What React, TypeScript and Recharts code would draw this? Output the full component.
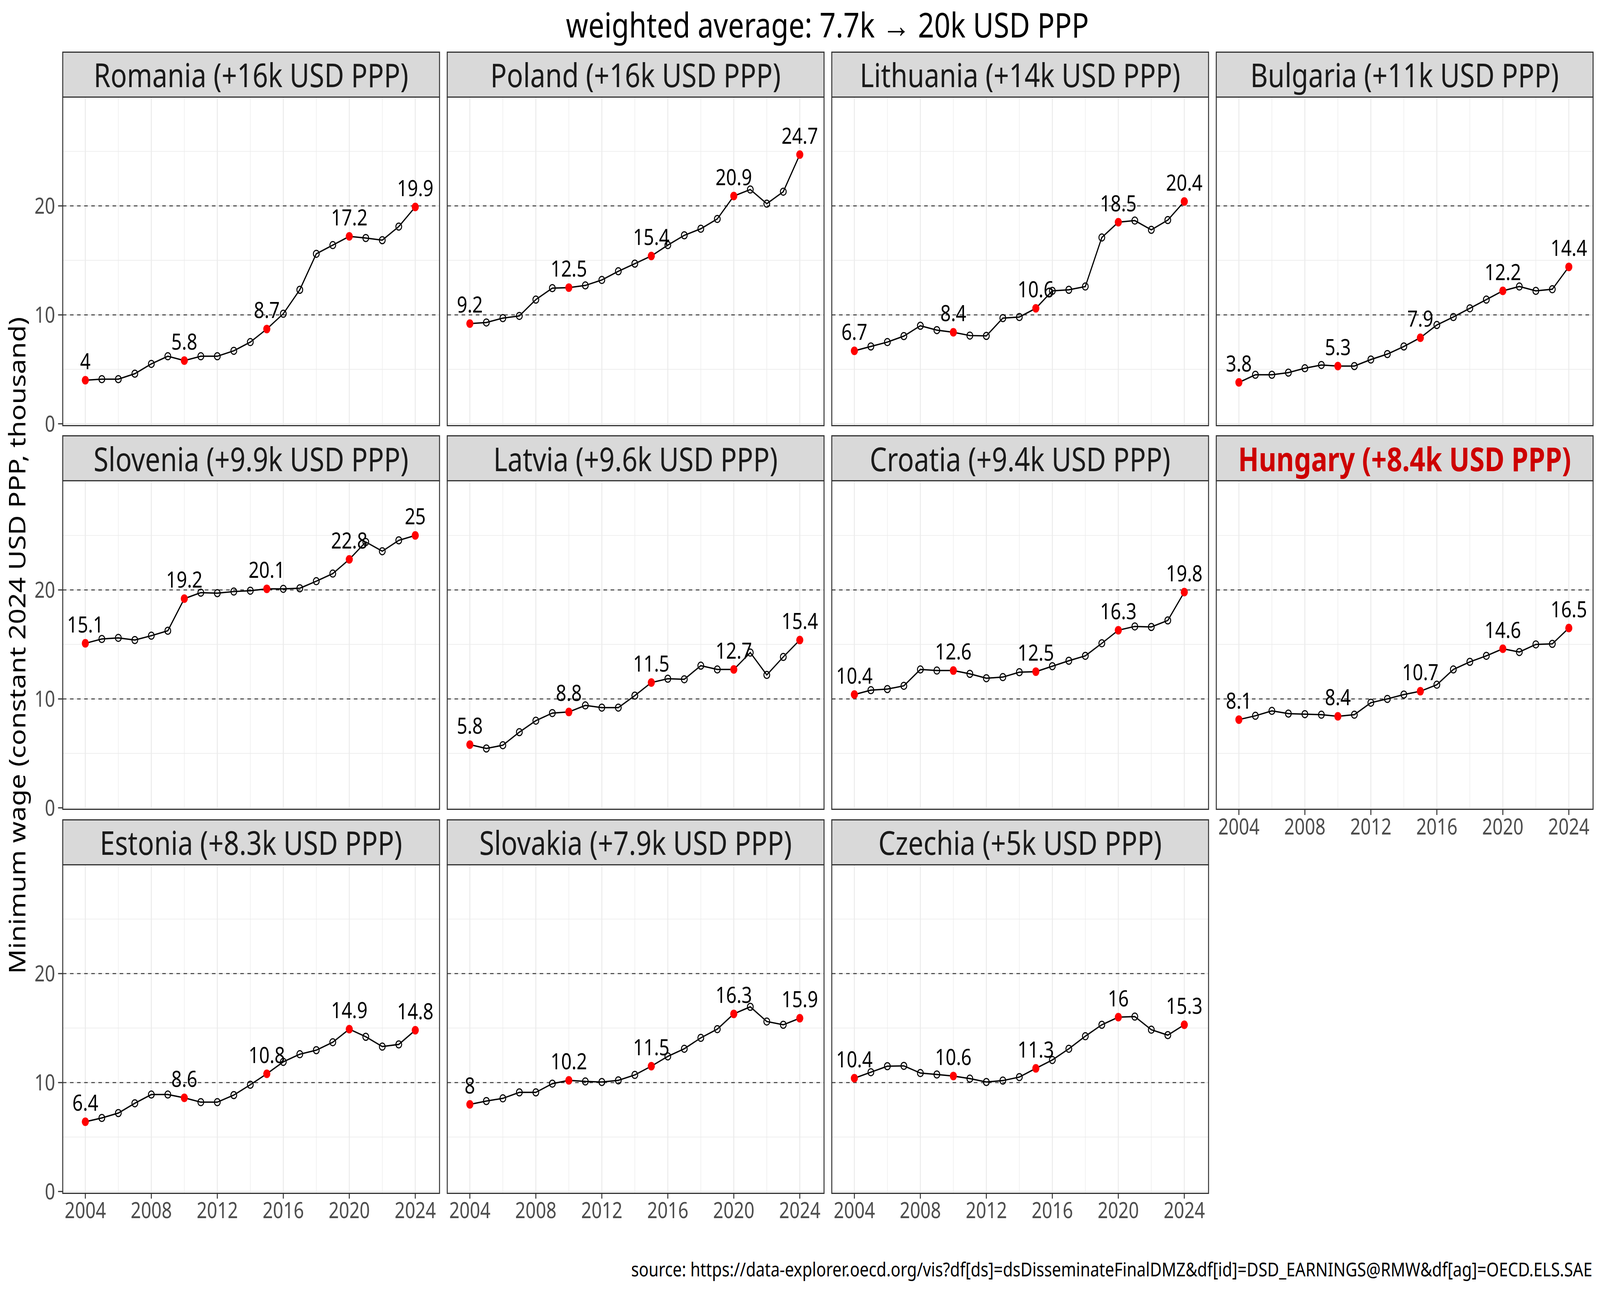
import { LabelList, Line, LineChart, ReferenceLine, XAxis, YAxis } from 'recharts';

// ─── Data ───────────────────────────────────────────────────

const YEARS = [2004, 2005, 2006, 2007, 2008, 2009, 2010, 2011, 2012, 2013, 2014, 2015, 2016, 2017, 2018, 2019, 2020, 2021, 2022, 2023, 2024];
const HIGHLIGHT_YEARS = [2004, 2010, 2015, 2020, 2024];
const X_TICKS = [2004, 2008, 2012, 2016, 2020, 2024];
const X_MINOR = [2006, 2010, 2014, 2018, 2022];
const Y_TICKS = [0, 10, 20];
const Y_MINOR = [5, 15, 25];
const DASHED_Y = [10, 20];

const ROMANIA = [4.0, 4.1, 4.1, 4.6, 5.5, 6.2, 5.8, 6.2, 6.2, 6.7, 7.5, 8.7, 10.1, 12.3, 15.6, 16.4, 17.2, 17.05, 16.85, 18.1, 19.9];
const POLAND = [9.2, 9.3, 9.7, 9.9, 11.4, 12.45, 12.5, 12.7, 13.2, 14.0, 14.7, 15.4, 16.4, 17.3, 17.9, 18.8, 20.9, 21.5, 20.2, 21.3, 24.7];
const LITHUANIA = [6.7, 7.1, 7.5, 8.05, 9.0, 8.6, 8.4, 8.1, 8.07, 9.7, 9.8, 10.6, 12.2, 12.3, 12.6, 17.1, 18.5, 18.65, 17.8, 18.7, 20.4];
const BULGARIA = [3.8, 4.5, 4.5, 4.7, 5.1, 5.4, 5.3, 5.3, 5.9, 6.4, 7.1, 7.9, 9.07, 9.8, 10.6, 11.4, 12.2, 12.6, 12.2, 12.35, 14.4];
const SLOVENIA = [15.1, 15.5, 15.6, 15.4, 15.8, 16.25, 19.2, 19.75, 19.7, 19.85, 19.93, 20.1, 20.1, 20.15, 20.8, 21.5, 22.8, 24.4, 23.55, 24.55, 25.0];
const LATVIA = [5.8, 5.45, 5.75, 6.95, 8.0, 8.7, 8.8, 9.4, 9.2, 9.2, 10.3, 11.5, 11.85, 11.8, 13.05, 12.7, 12.7, 14.25, 12.2, 13.85, 15.4];
const CROATIA = [10.4, 10.8, 10.9, 11.2, 12.7, 12.6, 12.6, 12.3, 11.9, 12.0, 12.45, 12.5, 13.0, 13.5, 13.95, 15.1, 16.3, 16.65, 16.6, 17.2, 19.8];
const HUNGARY = [8.1, 8.45, 8.9, 8.65, 8.6, 8.55, 8.4, 8.55, 9.65, 10.0, 10.4, 10.7, 11.3, 12.7, 13.4, 13.95, 14.6, 14.3, 15.0, 15.05, 16.5];
const ESTONIA = [6.4, 6.75, 7.2, 8.1, 8.9, 8.9, 8.6, 8.2, 8.2, 8.85, 9.8, 10.8, 11.9, 12.6, 12.97, 13.7, 14.9, 14.2, 13.3, 13.5, 14.8];
const SLOVAKIA = [8.0, 8.3, 8.55, 9.1, 9.1, 9.9, 10.2, 10.1, 10.05, 10.2, 10.7, 11.5, 12.4, 13.1, 14.1, 14.9, 16.3, 16.95, 15.6, 15.3, 15.9];
const CZECHIA = [10.4, 10.95, 11.5, 11.53, 10.87, 10.74, 10.6, 10.36, 10.05, 10.18, 10.5, 11.3, 12.07, 13.1, 14.25, 15.3, 16.0, 16.05, 14.85, 14.35, 15.3];

const COUNTRIES = ['Romania', 'Poland', 'Lithuania', 'Bulgaria', 'Slovenia', 'Latvia', 'Croatia', 'Hungary', 'Estonia', 'Slovakia', 'Czechia'];
const GAINS = ['+16k', '+16k', '+14k', '+11k', '+9.9k', '+9.6k', '+9.4k', '+8.4k', '+8.3k', '+7.9k', '+5k'];
const SERIES = [ROMANIA, POLAND, LITHUANIA, BULGARIA, SLOVENIA, LATVIA, CROATIA, HUNGARY, ESTONIA, SLOVAKIA, CZECHIA];
const HIGHLIGHT_COUNTRY = 'Hungary';

const TITLE = 'weighted average: 7.7k → 20k USD PPP';
const Y_LABEL = 'Minimum wage (constant 2024 USD PPP, thousand)';
const CAPTION = 'source: https://data-explorer.oecd.org/vis?df[ds]=dsDisseminateFinalDMZ&df[id]=DSD_EARNINGS@RMW&df[ag]=OECD.ELS.SAE';

// ─── Layout ─────────────────────────────────────────────────

const W = 4960;
const H = 3307;
const FONT = '"Noto Sans", sans-serif';
const LEFT0 = 194.5;
const TOP0 = 133;
const COL_STRIDE = 1192;
const ROW_STRIDE = 982.5;
const PANEL_W = 1167.5;
const PANEL_H = 841;
const STRIP_H = 115;
const YAXIS_W = 140;
const XAXIS_H = 100;
const PAD_B = 40;
const BORDER = '#333333';

const fmt = (v: number) => String(Math.round(v * 10) / 10);

function renderDot(props: any) {
  const { cx, cy, payload } = props;
  if (cx == null || cy == null) return <g key={`d-${payload?.year}`} />;
  if (HIGHLIGHT_YEARS.includes(payload.year)) {
    return <circle key={`d-${payload.year}`} cx={cx} cy={cy} r={11} fill="#FF0000" />;
  }
  return <circle key={`d-${payload.year}`} cx={cx} cy={cy} r={9} fill="none" stroke="#000" strokeWidth={3} />;
}

function renderLabel(props: any) {
  const { value } = props;
  if (value == null) return null;
  const x = props.x ?? props.viewBox?.x;
  const y = props.y ?? props.viewBox?.y;
  return (
    <text x={x} y={y - 28} textAnchor="middle" fontSize={57} fontFamily={FONT} fill="#000">
      {value}
    </text>
  );
}

function Panel({ index }: { index: number }) {
  const col = index % 4;
  const row = Math.floor(index / 4);
  const name = COUNTRIES[index];
  const showY = col === 0;
  const showX = row === 2 || (row === 1 && col === 3);
  const stripTop = TOP0 + row * ROW_STRIDE;
  const plotTop = stripTop + STRIP_H;
  const left = LEFT0 + col * COL_STRIDE;
  const yw = showY ? YAXIS_W : 0;
  const xh = showX ? XAXIS_H : 0;
  const padB = showX ? 0 : PAD_B;
  const hl = name === HIGHLIGHT_COUNTRY;

  const data = YEARS.map((year, i) => ({
    year,
    v: SERIES[index][i],
    label: HIGHLIGHT_YEARS.includes(year) ? fmt(SERIES[index][i]) : null,
  }));

  const tickStyle = { fill: '#4D4D4D', fontSize: 56, fontFamily: FONT };

  return (
    <>
      <div style={{ position: 'absolute', left: left - yw, top: plotTop }}>
        <LineChart
          width={PANEL_W + yw}
          height={PANEL_H + xh + padB}
          data={data}
          margin={{ top: 0, right: 0, bottom: padB, left: 0 }}
        >
          <XAxis
            type="number"
            dataKey="year"
            domain={[2002.64, 2025.47]}
            ticks={X_TICKS}
            interval={0}
            allowDataOverflow
            hide={!showX}
            height={xh}
            axisLine={false}
            tickLine={{ stroke: BORDER, strokeWidth: 3 }}
            tickSize={14}
            tickMargin={10}
            tick={tickStyle}
          />
          <YAxis
            type="number"
            domain={[-0.15, 30]}
            ticks={Y_TICKS}
            interval={0}
            allowDataOverflow
            hide={!showY}
            width={yw}
            axisLine={false}
            tickLine={{ stroke: BORDER, strokeWidth: 3 }}
            tickSize={15}
            tickMargin={9}
            tick={tickStyle}
          />
          {X_MINOR.map(x => (
            <ReferenceLine key={`xm-${x}`} x={x} stroke="#EBEBEB" strokeWidth={1.6} />
          ))}
          {Y_MINOR.map(y => (
            <ReferenceLine key={`ym-${y}`} y={y} stroke="#EBEBEB" strokeWidth={1.6} />
          ))}
          {X_TICKS.map(x => (
            <ReferenceLine key={`xM-${x}`} x={x} stroke="#EBEBEB" strokeWidth={3} />
          ))}
          {Y_TICKS.map(y => (
            <ReferenceLine key={`yM-${y}`} y={y} stroke="#EBEBEB" strokeWidth={3} />
          ))}
          {DASHED_Y.map(y => (
            <ReferenceLine key={`yd-${y}`} y={y} stroke="#3A3A3A" strokeWidth={2.5} strokeDasharray="11 11" />
          ))}
          <Line
            type="linear"
            dataKey="v"
            stroke="#000"
            strokeWidth={3.5}
            dot={renderDot}
            activeDot={false}
            isAnimationActive={false}
          >
            <LabelList dataKey="label" content={renderLabel} />
          </Line>
        </LineChart>
      </div>
      <div
        style={{
          position: 'absolute',
          left: left - 1.5,
          top: plotTop - 1.5,
          width: PANEL_W + 3,
          height: PANEL_H + 3,
          border: `3px solid ${BORDER}`,
          boxSizing: 'border-box',
          pointerEvents: 'none',
        }}
      />
      <div
        style={{
          position: 'absolute',
          left: left - 1.5,
          top: stripTop - 1.5,
          width: PANEL_W + 3,
          height: STRIP_H + 3,
          border: `3px solid ${BORDER}`,
          boxSizing: 'border-box',
          background: '#D9D9D9',
          display: 'flex',
          alignItems: 'center',
          justifyContent: 'center',
          fontFamily: FONT,
          fontSize: 84,
          fontWeight: hl ? 700 : 400,
          color: hl ? '#CD0000' : '#1A1A1A',
          whiteSpace: 'nowrap',
        }}
      >
        {`${name} (${GAINS[index]} USD PPP)`}
      </div>
    </>
  );
}

export default function App() {
  // the browser caps the viewport width, so map the 4960x3307 layout onto the real viewport
  const vw = typeof window !== 'undefined' ? window.innerWidth : W;
  const vh = typeof window !== 'undefined' ? window.innerHeight : H;
  const sx = vw / W;
  const sy = vh / H;
  return (
    <div style={{ position: 'absolute', left: 0, top: 0, width: vw, height: vh, overflow: 'hidden', background: '#fff' }}>
      <div
        style={{
          position: 'absolute',
          left: 0,
          top: 0,
          width: W,
          height: H,
          background: '#fff',
          fontFamily: FONT,
          transform: `scale(${sx}, ${sy})`,
          transformOrigin: '0 0',
        }}
      >
        {COUNTRIES.map((c, i) => (
          <Panel key={c} index={i} />
        ))}
        <svg width={W} height={H} style={{ position: 'absolute', left: 0, top: 0, pointerEvents: 'none' }}>
          <text x={2565} y={96} textAnchor="middle" fontSize={88} fontFamily={FONT} fill="#000">
            {TITLE}
          </text>
          <text
            transform="translate(52,1652) rotate(-90)"
            textAnchor="middle"
            dominantBaseline="central"
            fontSize={70}
            fontFamily={FONT}
            fill="#000"
          >
            {Y_LABEL}
          </text>
          <text x={4936} y={3267} textAnchor="end" fontSize={50} fontFamily={FONT} fill="#000">
            {CAPTION}
          </text>
        </svg>
      </div>
    </div>
  );
}
